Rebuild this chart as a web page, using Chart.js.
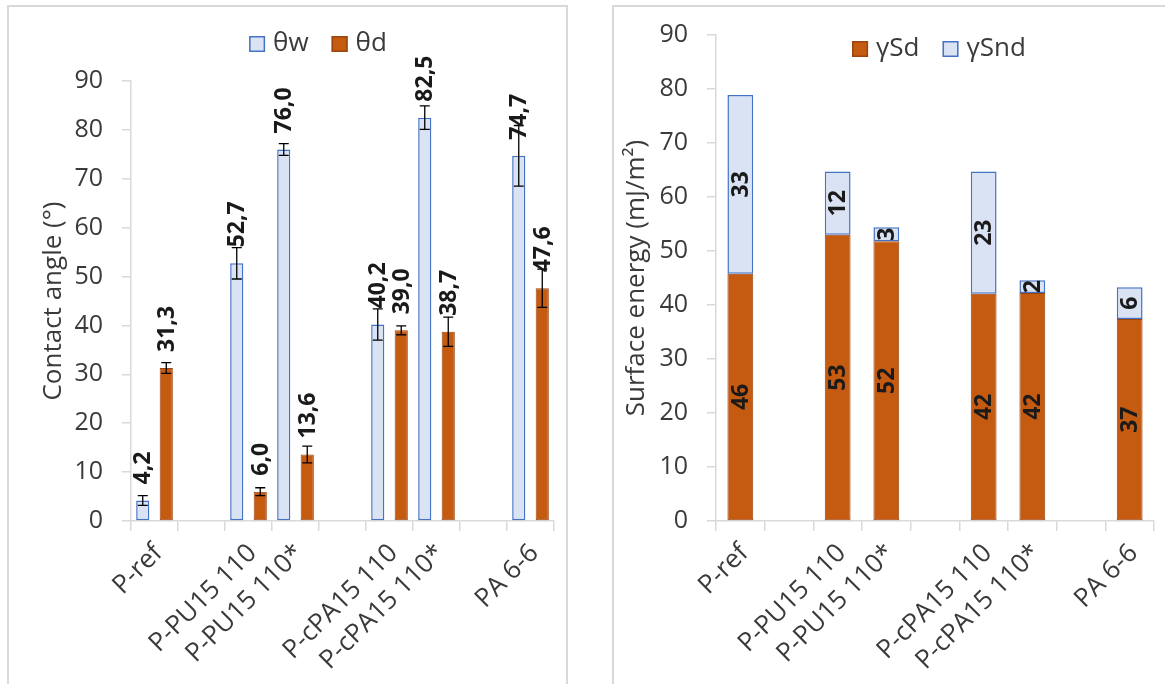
<!DOCTYPE html>
<html><head><meta charset="utf-8">
<script src="https://cdn.jsdelivr.net/npm/chart.js@4.4.1/dist/chart.umd.min.js"></script>
<style>
html,body{margin:0;padding:0;background:#fff;overflow:hidden;width:1165px;height:684px;}
.panel{position:absolute;border:2px solid #D9D9D9;box-sizing:border-box;}
#p1{left:7px;top:5px;width:561px;height:720px;}
#p2{left:612px;top:5px;width:600px;height:720px;}
#c1wrap{position:absolute;left:0;top:0;width:590px;height:684px;}
#c2wrap{position:absolute;left:590px;top:0;width:575px;height:684px;}
</style></head><body>
<div class="panel" id="p1"></div><div class="panel" id="p2"></div>
<div id="c1wrap"><canvas id="c1"></canvas></div>
<div id="c2wrap"><canvas id="c2"></canvas></div>
<script>
// ---- data ----
const categories = ['P-ref', '', 'P-PU15 110', 'P-PU15 110*', '', 'P-cPA15 110', 'P-cPA15 110*', '', 'PA 6-6'];
const thetaW    = [4.2, null, 52.7, 76.0, null, 40.2, 82.5, null, 74.7];
const thetaWErr = [1.0, null, 3.2, 1.2, null, 3.2, 2.4, null, 6.2];
const thetaD    = [31.3, null, 6.0, 13.6, null, 39.0, 38.7, null, 47.6];
const thetaDErr = [1.1, null, 0.8, 1.7, null, 0.9, 3.0, null, 3.9];
const gammaSd   = [45.8, null, 53.0, 51.8, null, 42.1, 42.2, null, 37.4];
const gammaSnd  = [33.1, null, 11.7, 2.6, null, 22.6, 2.4, null, 5.9];
const yMin = 0, yMax = 90, yStep = 10;

const FONT = '"Open Sans", "DejaVu Sans", sans-serif';
const TXT = '#3a3a3a';
const BLUE_FILL = '#DAE3F3', BLUE_LINE = '#4472C4';
const OR_FILL = '#C55A11', OR_LINE = '#9A4410';
const AXIS = '#D9D9D9';

const errorBarPlugin = {
  id: 'errorBars',
  afterDatasetsDraw(chart, args, opts) {
    if (!opts.errors) return;
    const ctx = chart.ctx, ys = chart.scales.y;
    ctx.save(); ctx.strokeStyle = '#000'; ctx.lineWidth = 1.3;
    opts.errors.forEach((errs, di) => {
      const meta = chart.getDatasetMeta(di);
      const vals = chart.data.datasets[di].data;
      meta.data.forEach((el, i) => {
        if (vals[i] == null || errs[i] == null) return;
        const t = ys.getPixelForValue(vals[i] + errs[i]);
        const b = ys.getPixelForValue(vals[i] - errs[i]);
        const x = el.x, c = 5;
        ctx.beginPath();
        ctx.moveTo(x, t); ctx.lineTo(x, b);
        ctx.moveTo(x - c, t); ctx.lineTo(x + c, t);
        ctx.moveTo(x - c, b); ctx.lineTo(x + c, b);
        ctx.stroke();
      });
    });
    ctx.restore();
  }
};

const valueLabelPlugin = {
  id: 'valueLabels',
  afterDatasetsDraw(chart, args, opts) {
    const ctx = chart.ctx;
    ctx.save();
    ctx.font = opts.font; ctx.fillStyle = opts.color;
    chart.data.datasets.forEach((ds, di) => {
      const meta = chart.getDatasetMeta(di);
      meta.data.forEach((el, i) => {
        const v = ds.data[i]; if (v == null) return;
        ctx.save();
        if (opts.mode === 'outside') {
          const txt = v.toFixed(1).replace('.', ',');
          ctx.translate(el.x + 1, el.y - opts.offset);
          ctx.rotate(-Math.PI / 2);
          ctx.textAlign = 'left'; ctx.textBaseline = 'middle';
          ctx.fillText(txt, 0, 0);
        } else {
          const txt = String(Math.round(v));
          ctx.translate(el.x + 1, (el.y + el.base) / 2);
          ctx.rotate(-Math.PI / 2);
          ctx.textAlign = 'center'; ctx.textBaseline = 'middle';
          ctx.fillText(txt, 0, 0);
        }
        ctx.restore();
      });
    });
    ctx.restore();
  }
};

const legendPlugin = {
  id: 'manualLegend',
  afterDraw(chart, args, opts) {
    const ctx = chart.ctx; ctx.save();
    ctx.font = opts.font; ctx.textBaseline = 'middle'; ctx.textAlign = 'left';
    const items = chart.data.datasets.map(ds => ({ text: ds.label, fill: ds.backgroundColor, stroke: ds.borderColor }));
    const box = 16, gap = 8, itemGap = 23;
    const widths = items.map(it => box + gap + ctx.measureText(it.text).width);
    const total = widths.reduce((a, b) => a + b, 0) + itemGap * (items.length - 1);
    let x = opts.cx - total / 2;
    items.forEach((it, k) => {
      ctx.fillStyle = it.fill; ctx.fillRect(x, opts.cy - box / 2, box, box);
      ctx.strokeStyle = it.stroke; ctx.lineWidth = 1.5;
      ctx.strokeRect(x + 0.75, opts.cy - box / 2 + 0.75, box - 1.5, box - 1.5);
      ctx.fillStyle = opts.color; ctx.fillText(it.text, x + box + gap, opts.cy);
      x += widths[k] + itemGap;
    });
    ctx.restore();
  }
};

function makeScales(cfg) {
  return {
    x: {
      stacked: cfg.stacked,
      afterFit: s => { s.height = cfg.xHeight; },
      grid: { offset: true, drawOnChartArea: false, drawTicks: true, tickLength: 10, color: AXIS, lineWidth: 1.5 },
      border: { display: true, color: AXIS, width: 1.5 },
      ticks: { autoSkip: false, maxRotation: 45, minRotation: 45, color: TXT, font: { family: FONT, size: 26 }, padding: 7, labelOffset: 4 }
    },
    y: {
      stacked: cfg.stacked,
      min: yMin, max: yMax,
      afterFit: s => { s.width = cfg.yWidth; },
      grid: { drawOnChartArea: false, drawTicks: true, tickLength: 9, color: AXIS, lineWidth: 1.5 },
      border: { display: true, color: AXIS, width: 1.5 },
      ticks: { stepSize: yStep, color: TXT, font: { family: FONT, size: 25 }, padding: 19 },
      title: { display: true, text: cfg.title, color: TXT, font: { family: FONT, size: 26 }, padding: { top: cfg.titlePad, bottom: 0 } }
    }
  };
}

new Chart(document.getElementById('c1'), {
  type: 'bar',
  data: {
    labels: categories,
    datasets: [
      { label: 'θw', data: thetaW, backgroundColor: BLUE_FILL, borderColor: BLUE_LINE, borderWidth: 1.5, borderSkipped: false },
      { label: 'θd', data: thetaD, backgroundColor: OR_FILL, borderColor: OR_LINE, borderWidth: 1, borderSkipped: false }
    ]
  },
  options: {
    responsive: true, maintainAspectRatio: false, animation: false,
    layout: { padding: { left: 0, right: 36, top: 81, bottom: 0 } },
    datasets: { bar: { categoryPercentage: 1.0, barPercentage: 0.56 } },
    scales: makeScales({ stacked: false, xHeight: 163, yWidth: 131, title: 'Contact angle (°)', titlePad: 38 }),
    plugins: {
      legend: { display: false }, tooltip: { enabled: false },
      errorBars: { errors: [thetaWErr, thetaDErr] },
      valueLabels: { mode: 'outside', offset: 16, font: 'bold 23px ' + FONT, color: '#1a1a1a' },
      manualLegend: { cx: 318, cy: 44, font: '26px ' + FONT, color: TXT }
    }
  },
  plugins: [errorBarPlugin, valueLabelPlugin, legendPlugin]
});

new Chart(document.getElementById('c2'), {
  type: 'bar',
  data: {
    labels: categories,
    datasets: [
      { label: 'γSd', data: gammaSd, backgroundColor: OR_FILL, borderColor: OR_LINE, borderWidth: 1, borderSkipped: false },
      { label: 'γSnd', data: gammaSnd, backgroundColor: BLUE_FILL, borderColor: BLUE_LINE, borderWidth: 1.5, borderSkipped: false }
    ]
  },
  options: {
    responsive: true, maintainAspectRatio: false, animation: false,
    layout: { padding: { left: 0, right: 11, top: 35, bottom: 0 } },
    datasets: { bar: { categoryPercentage: 1.0, barPercentage: 0.53 } },
    scales: makeScales({ stacked: true, xHeight: 163, yWidth: 126, title: 'Surface energy (mJ/m²)', titlePad: 31 }),
    plugins: {
      legend: { display: false }, tooltip: { enabled: false },
      valueLabels: { mode: 'inside', font: 'bold 23px ' + FONT, color: '#1a1a1a' },
      manualLegend: { cx: 349, cy: 49, font: '26px ' + FONT, color: TXT }
    }
  },
  plugins: [valueLabelPlugin, legendPlugin]
});
</script>
</body></html>
